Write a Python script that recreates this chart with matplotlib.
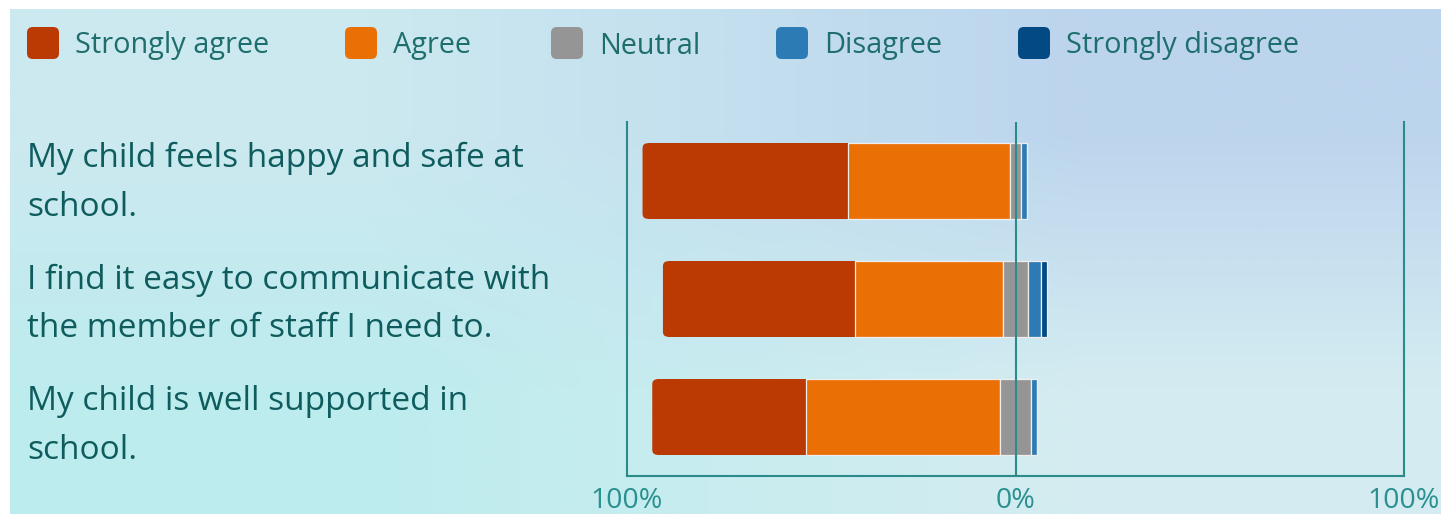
import matplotlib
matplotlib.use("Agg")
import matplotlib.pyplot as plt
from matplotlib.patches import FancyBboxPatch
import numpy as np

plt.rcParams['font.family'] = ['Open Sans', 'DejaVu Sans']

questions = [
    "My child feels happy and safe at\nschool.",
    "I find it easy to communicate with\nthe member of staff I need to.",
    "My child is well supported in\nschool.",
]
categories = ["Strongly agree", "Agree", "Neutral", "Disagree", "Strongly disagree"]
colors = ["#bb3a03", "#ea7006", "#959595", "#2c7bb5", "#034a85"]

strongly_agree = [53.0, 49.5, 39.5]
agree = [41.5, 38.0, 50.0]
neutral = [3.0, 6.5, 8.0]
disagree = [1.5, 3.2, 1.5]
strongly_disagree = [0.0, 1.7, 0.0]

tick_vals = [-100, 0, 100]
tick_labels = ["100%", "0%", "100%"]

W, H = 1441, 514
fig = plt.figure(figsize=(W / 100, H / 100), dpi=100, facecolor="white")

# gradient panel behind everything
bg = fig.add_axes([10 / W, 0, 1 - 10 / W, 505 / H])
corners = np.array([
    [[0xcc, 0xe9, 0xf0], [0xbc, 0xd5, 0xed]],
    [[0xbd, 0xec, 0xee], [0xd4, 0xec, 0xf1]],
]) / 255
bg.imshow(corners, interpolation="bilinear", aspect="auto", extent=[0, 1, 0, 1])
bg.set_xlim(0, 1)
bg.set_ylim(0, 1)
bg.axis("off")

teal = "#2b8a8a"
text_col = "#0f5c5e"

# legend
leg_x = [27, 345, 551, 776, 1018]
for x, lab, c in zip(leg_x, categories, colors):
    fig.patches.append(FancyBboxPatch((x / W, 1 - 59 / H), 32 / W, 32 / H,
                                      boxstyle="round,pad=0,rounding_size=0.004",
                                      mutation_aspect=W / H,
                                      transform=fig.transFigure, facecolor=c,
                                      edgecolor="none"))
    fig.text((x + 48) / W, 1 - 46 / H, lab, fontsize=20.8, color="#1f6e6e",
             va="center", ha="left")

ax = fig.add_axes([627 / W, 1 - 476 / H, 777 / W, 354 / H])
ax.set_facecolor("none")
ax.set_xlim(-100, 100)
ax.set_ylim(2.5, -0.5)

y = np.arange(len(questions))
sa = np.array(strongly_agree)
a = np.array(agree)
n = np.array(neutral)
d = np.array(disagree)
sd = np.array(strongly_disagree)

left = -(sa + a + n / 2)
h = 0.64
r = 5 / 3.885  # corner radius in data units (x)
for i in range(len(y)):
    p = FancyBboxPatch((left[i], y[i] - h / 2), sa[i], h,
                       boxstyle=f"round,pad=0,rounding_size={r}",
                       mutation_aspect=(5 / 118) / r,
                       facecolor=colors[0], edgecolor="none", zorder=2)
    ax.add_patch(p)
ax.barh(y, sa - r, left=left + r, height=h, color=colors[0], zorder=2)

starts = left + sa
for vals, c in zip([a, n, d, sd], colors[1:]):
    ax.barh(y, vals, left=starts, height=h, color=c, edgecolor="#eeeeee",
            linewidth=0.9, zorder=3)
    starts = starts + vals

ax.axvline(0, color=teal, lw=1.5, zorder=4)
for s in ["left", "right", "bottom"]:
    ax.spines[s].set_color(teal)
    ax.spines[s].set_linewidth(1.5)
ax.spines["top"].set_visible(False)

ax.set_xticks(tick_vals)
ax.set_xticklabels(tick_labels, fontsize=20.5, color="#2a9090")
ax.tick_params(axis="x", length=0, pad=8)
ax.set_yticks([])

# question labels sit on their own row spacing, slightly looser than the bars
for i, q in enumerate(questions):
    fig.text(27 / W, 1 - (183 + 121.5 * i) / H, q, fontsize=24, color=text_col,
             ha="left", va="center", linespacing=1.62)

fig.savefig("out.png", dpi=100, facecolor="white")
